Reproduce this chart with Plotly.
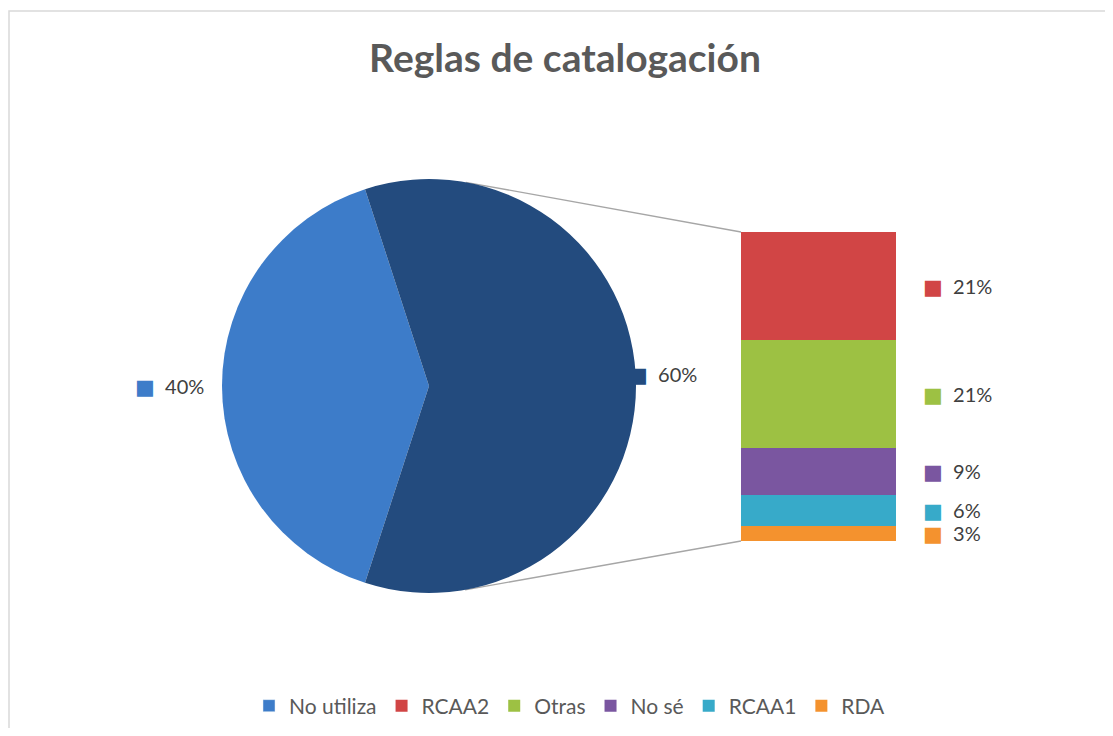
import math
import plotly.graph_objects as go

# ---------------- data ----------------
title_text = "Reglas de catalogación"
pie_main_label = "No utiliza"
pie_main_value = 40
bar_labels = ["RCAA2", "Otras", "No sé", "RCAA1", "RDA"]
bar_values = [21, 21, 9, 6, 3]
other_value = sum(bar_values)
pie_labels = [pie_main_label, "Otro"]
pie_values = [pie_main_value, other_value]
total = sum(pie_values)

# ---------------- style ----------------
VW, VH = 1113, 736       # browser window
OFF = 8                  # default body margin of the page
W, H = VW - 2 * OFF, VH - 2 * OFF
pie_colors = ["#3D7CC9", "#234B7E"]
bar_colors = ["#D14545", "#9DC143", "#7A56A0", "#37AAC9", "#F4922E"]
FONT = "Lato"
TXT = "#404040"
LEG = "#595959"

cx, cy, r = 429, 386, 207                   # pie geometry (window px)
bx0, bx1, btop, bbot = 741, 896, 232, 541   # bar box (window px)


def px(x):
    return (x - OFF) / W


def py(y):
    return 1 - (y - OFF) / H


def mark(color):
    return (f'<span style="color:{color};font-family:\'DejaVu Sans\';'
            f'font-size:21px">■</span>&nbsp;&nbsp;')


fig = go.Figure()

# pie: light slice centred on the left
a0 = 360 * pie_values[0] / total
rotation = -90 - a0 / 2
fig.add_trace(go.Pie(
    labels=pie_labels, values=pie_values, sort=False,
    direction="clockwise", rotation=rotation,
    marker=dict(colors=pie_colors, line=dict(width=0)),
    textinfo="none", hoverinfo="label+percent", showlegend=False,
    domain=dict(x=[px(cx - r), px(cx + r)], y=[py(cy + r), py(cy - r)]),
))

# legend-only entry for the pie slice
fig.add_trace(go.Bar(x=[""], y=[0], name=pie_main_label,
                     marker=dict(color=pie_colors[0]), legendrank=1,
                     hoverinfo="skip"))

# stacked bar (bottom first)
for i in reversed(range(len(bar_labels))):
    fig.add_trace(go.Bar(
        x=[""], y=[bar_values[i]], name=bar_labels[i],
        marker=dict(color=bar_colors[i], line=dict(width=0)),
        legendrank=2 + i,
    ))

# pie labels
label_gap = [16, -10]
label_yshift = [0, 12]
ang = rotation
for i, v in enumerate(pie_values):
    span = 360 * v / total
    mid = math.radians(ang + span / 2)
    ang += span
    d = r + label_gap[i]
    lx = cx + d * math.sin(mid)
    ly = cy - d * math.cos(mid)
    side_left = math.sin(mid) < 0
    fig.add_annotation(
        x=px(lx), y=py(ly), xref="paper", yref="paper",
        xanchor="right" if side_left else "left", yanchor="middle",
        yshift=label_yshift[i], showarrow=False,
        text=mark(pie_colors[i]) + f"{round(100 * v / total)}%",
        font=dict(family=FONT, size=20, color=TXT),
    )

# bar labels
cum = 0
mids = {}
for i in reversed(range(len(bar_labels))):
    mids[i] = cum + bar_values[i] / 2
    cum += bar_values[i]
for i in range(len(bar_labels)):
    fig.add_annotation(
        x=1, xref="x domain", y=mids[i], yref="y",
        xanchor="left", yanchor="middle", xshift=25, showarrow=False,
        text=mark(bar_colors[i]) + f"{round(100 * bar_values[i] / total)}%",
        font=dict(family=FONT, size=20, color=TXT),
    )


# connector lines: tangent from each bar corner to the pie rim
def tangent_point(ex, ey, upper):
    dx, dy = ex - cx, cy - ey           # math coords (y up)
    d = math.hypot(dx, dy)
    base = math.atan2(dy, dx)
    off = math.acos(r / d)
    t = base + off if upper else base - off
    return cx + r * math.cos(t), cy - r * math.sin(t)


for ey, upper in [(btop, True), (bbot, False)]:
    sx, sy = tangent_point(bx0, ey, upper)
    fig.add_shape(type="line", xref="paper", yref="paper",
                  x0=px(sx), y0=py(sy), x1=px(bx0), y1=py(ey),
                  line=dict(color="#A6A6A6", width=1.3), layer="below")

# chart border (top and left edges visible)
fig.add_shape(type="rect", xref="paper", yref="paper",
              x0=px(9), y0=py(VH + 20), x1=px(VW + 20), y1=py(11),
              line=dict(color="#D9D9D9", width=1.5))

fig.update_layout(
    width=W, height=H,
    margin=dict(l=0, r=0, t=0, b=0),
    paper_bgcolor="white", plot_bgcolor="white",
    barmode="stack", bargap=0,
    title=dict(text=f"<b>{title_text}</b>", x=px(565), y=py(58),
               xanchor="center", yanchor="middle",
               font=dict(family=FONT, size=39, color=LEG)),
    xaxis=dict(domain=[px(bx0), px(bx1)], visible=False, fixedrange=True),
    yaxis=dict(domain=[py(bbot), py(btop)], range=[0, other_value],
               visible=False, fixedrange=True),
    legend=dict(orientation="h", x=px(570), xanchor="center",
                y=py(706), yanchor="middle",
                font=dict(family=FONT, size=21, color=LEG),
                itemwidth=30, traceorder="normal"),
    showlegend=True,
)

fig.write_html("out.html")
